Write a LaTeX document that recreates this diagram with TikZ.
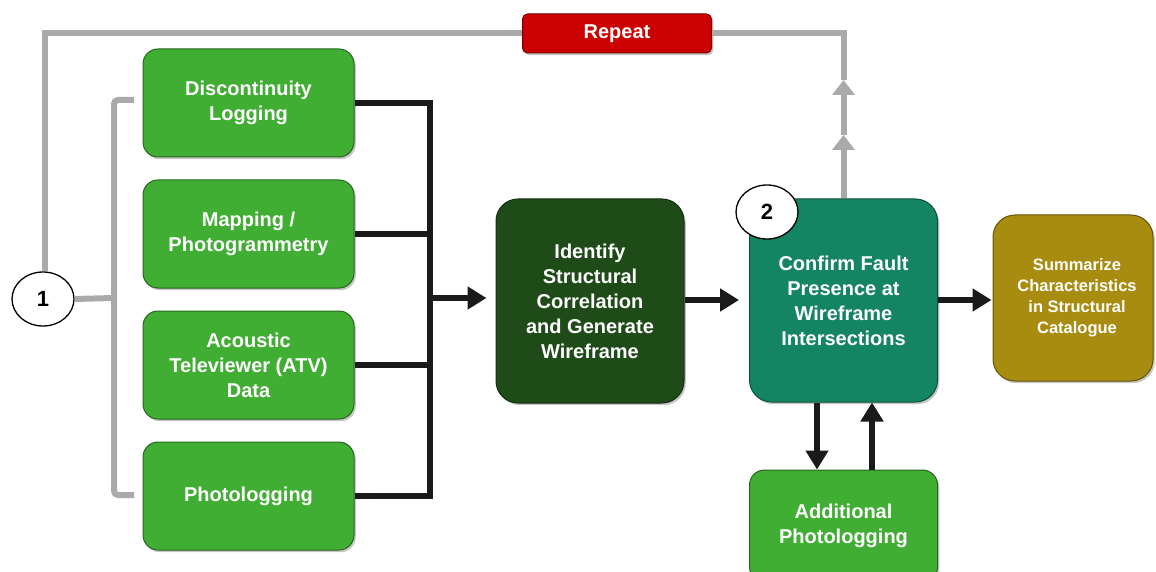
\documentclass[tikz,border=0pt]{standalone}
\usepackage{fontspec}
\setmainfont{Liberation Sans}
\usetikzlibrary{arrows.meta,shapes.geometric,shadows}

\definecolor{boxgreen}{HTML}{40AD33}
\definecolor{darkgreen}{HTML}{1F4B19}
\definecolor{teal}{HTML}{148563}
\definecolor{olive}{HTML}{A88C10}
\definecolor{repeatred}{HTML}{CC0000}
\definecolor{loopgray}{HTML}{AAAAAA}
\definecolor{busblack}{HTML}{1A1A1A}

\tikzset{
  box/.style={rounded corners=15pt, align=center, text=white, inner sep=0pt,
    font=\bfseries\fontsize{20}{25}\selectfont,
    drop shadow={shadow xshift=1.8pt, shadow yshift=-2.2pt, opacity=0.45}},
  inputbox/.style={box, fill=boxgreen, draw=boxgreen!60!black, line width=1pt,
    minimum width=211pt, minimum height=108pt},
  bigbox/.style={box, rounded corners=22pt, minimum width=188pt, minimum height=204pt},
  numlabel/.style={ellipse, draw=black, line width=1.3pt, fill=white, inner sep=0pt,
    minimum width=62pt, minimum height=54pt, font=\bfseries\fontsize{22}{24}\selectfont},
  blk/.style={draw=busblack, line width=6.5pt, line join=miter},
  arr/.style={blk, -{Triangle[width=22pt,length=19pt]}},
  gry/.style={draw=loopgray, line width=6pt, line join=miter},
  gryarr/.style={gry, -{Triangle[width=22pt,length=15pt]}}
}

\begin{document}
\begin{tikzpicture}[x=1pt,y=-1pt]
  \useasboundingbox (0,0) rectangle (1156,572);

  % input data sources
  \node[inputbox] (disc)  at (248.5,103) {\rule{0pt}{6pt}Discontinuity\\Logging};
  \node[inputbox] (map)   at (248.5,234) {\rule{0pt}{6pt}Mapping /\\Photogrammetry};
  \node[inputbox] (atv)   at (248.5,365) {Acoustic\\Televiewer (ATV)\\Data};
  \node[inputbox] (photo) at (248.5,496) {Photologging};

  % processing steps
  \node[bigbox, fill=darkgreen, draw=darkgreen!60!black, line width=1pt]
    (ident) at (590,301) {Identify\\Structural\\Correlation\\and Generate\\Wireframe};
  \node[bigbox, fill=teal, draw=teal!60!black, line width=1pt, minimum height=203pt]
    (conf) at (843.5,300.5) {Confirm Fault\\Presence at\\Wireframe\\Intersections};
  \node[box, rounded corners=22pt, fill=olive, draw=olive!60!black, line width=1pt,
    minimum width=160pt, minimum height=166pt, font=\bfseries\fontsize{16.5}{21}\selectfont]
    (summ) at (1073,298) {\hspace*{8pt}Summarize\\\hspace*{8pt}Characteristics\\\hspace*{8pt}in Structural\\\hspace*{8pt}Catalogue};
  \node[inputbox, minimum width=188pt, minimum height=112pt]
    (add) at (843.5,526) {Additional\\Photologging};
  \node[box, rounded corners=5pt, fill=repeatred, draw=repeatred!60!black, line width=1pt,
    minimum width=189pt, minimum height=39pt] (rep) at (617,33.5) {Repeat};

  % step numbers
  \node[numlabel] (one) at (43,299) {1};
  \node[numlabel] (two) at (767,212) {2};

  % repeat loop, rising from the confirmation step
  \coordinate (tipA) at (843.5,135);
  \coordinate (tipB) at (843.5,80);
  \draw[gryarr] (conf.north) -- (tipA);
  \draw[gryarr] (tipA) -- (tipB);
  \draw[gry] (tipB) |- (rep.east);
  \draw[gry] (rep.west) -| ([xshift=2pt]one.north);

  % bracket grouping the inputs
  \coordinate (brtop) at (134,100);
  \coordinate (brbot) at (134,495);
  \coordinate (brmid) at (114,298);
  \draw[gry, rounded corners=4pt] (brtop) -- (114,100) -- (114,495) -- (brbot);
  \draw[gry] (one.east) -- (brmid);

  % collecting bus
  \coordinate (bus) at (430,298);
  \draw[blk] (disc.east) -| (bus);
  \draw[blk] (photo.east) -| (bus);
  \draw[blk] (map.east) -- (map.east -| bus);
  \draw[blk] (atv.east) -- (atv.east -| bus);
  \draw[arr, shorten >=9pt] (bus) -- (bus -| ident.west);

  % flow between steps
  \draw[arr, shorten >=10pt] (ident.east |- 0,300) -- (conf.west |- 0,300);
  \draw[arr, shorten >=1pt] (conf.east |- 0,300) -- (summ.west |- 0,300);
  \draw[arr] ([xshift=-26.5pt]conf.south) -- ([xshift=-26.5pt]add.north);
  \draw[arr] ([xshift=28.5pt]add.north) -- ([xshift=28.5pt]conf.south);
\end{tikzpicture}
\end{document}
